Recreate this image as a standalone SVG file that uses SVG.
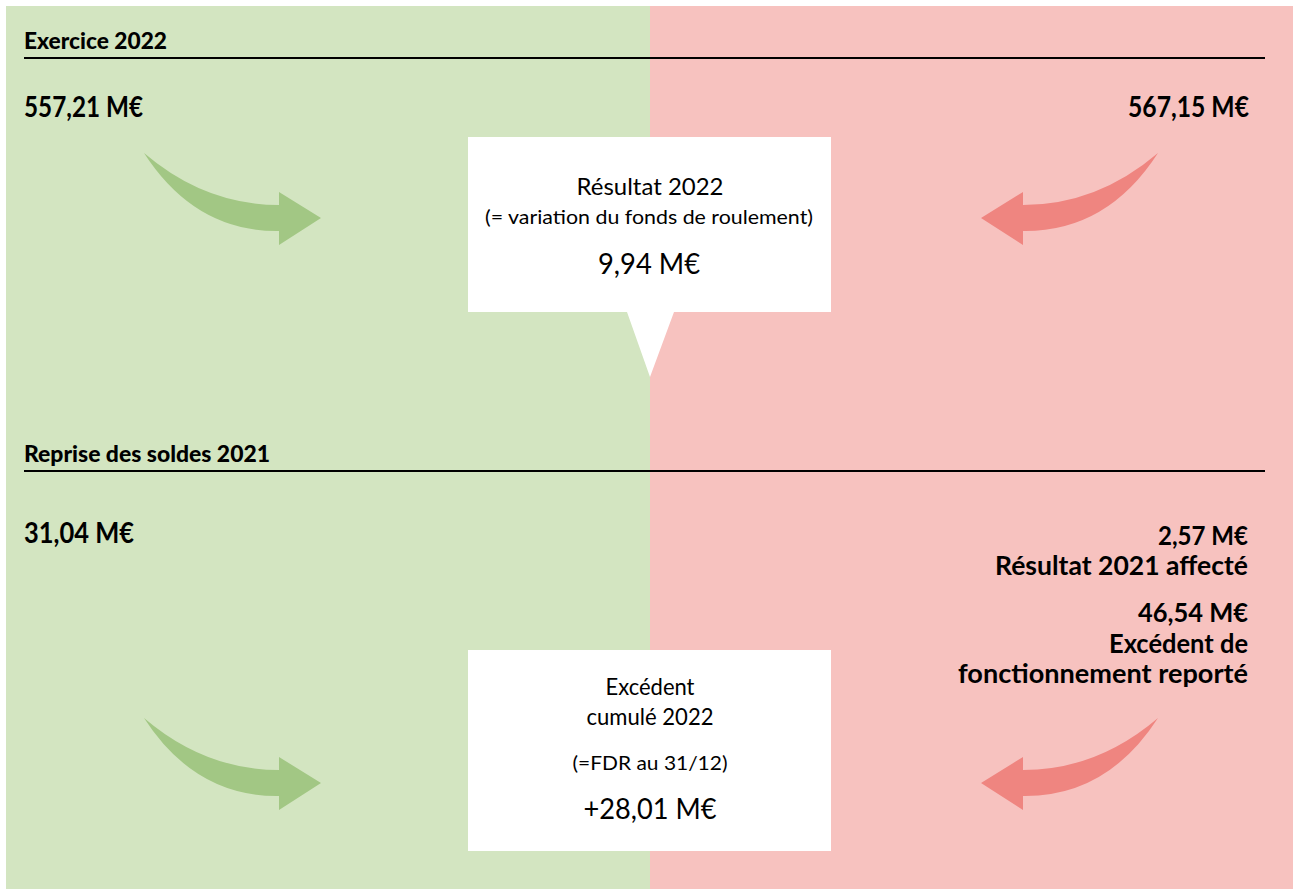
<svg xmlns="http://www.w3.org/2000/svg" width="1293" height="889" viewBox="0 0 1293 889">
<style>
text{font-family:Lato,"Open Sans","Liberation Sans",sans-serif;fill:#000}
.h{font-weight:900;font-size:22px}
.v{font-weight:700;font-size:28px}
.rv{font-weight:700;font-size:26px;text-anchor:end}
.c{font-size:23px;text-anchor:middle}
.cs{font-size:20px;text-anchor:middle}
.cb{font-size:29px;text-anchor:middle}
.r{text-anchor:end}
.ga{fill:#a2c784}
.ra{fill:#ef8580}
.box{fill:#fff}
.rule{stroke:#000;stroke-width:2}
</style>
<defs>
<path id="arr" d="M144,153 Q205,205 279,205 L279,192 L321,218 L279,245 L279,231 Q195,232 144,153 Z"/>
</defs>
<rect x="0" y="0" width="1293" height="889" fill="#fff"/>
<rect x="6" y="6" width="644" height="883" fill="#d3e5c1"/>
<rect x="650" y="6" width="643" height="883" fill="#f7c2bf"/>

<g id="section-exercice">
<text class="h" x="24" y="49" textLength="143" lengthAdjust="spacingAndGlyphs">Exercice 2022</text>
<line class="rule" x1="24" y1="58" x2="1265" y2="58"/>
</g>
<g id="recettes-2022">
<text class="v" x="24" y="117" textLength="119" lengthAdjust="spacingAndGlyphs">557,21 M€</text>
</g>
<g id="depenses-2022">
<text class="v r" x="1249" y="117" textLength="121" lengthAdjust="spacingAndGlyphs">567,15 M€</text>
</g>

<g id="connectors">
<use href="#arr" class="ga"/>
<use href="#arr" class="ra" transform="translate(1302,0) scale(-1,1)"/>
<use href="#arr" class="ga" transform="translate(0,565)"/>
<use href="#arr" class="ra" transform="translate(1302,565) scale(-1,1)"/>
</g>

<g id="resultat-2022">
<path class="box" d="M468,137 H831 V312 H674 L650,377 L627,312 H468 Z"/>
<text class="c" x="650" y="195" textLength="147" lengthAdjust="spacingAndGlyphs">Résultat 2022</text>
<text class="cs" x="649" y="224" textLength="328" lengthAdjust="spacingAndGlyphs">(= variation du fonds de roulement)</text>
<text class="cb" x="649" y="274" textLength="102" lengthAdjust="spacingAndGlyphs">9,94 M€</text>
</g>

<g id="section-reprise">
<text class="h" x="24" y="462" textLength="246" lengthAdjust="spacingAndGlyphs">Reprise des soldes 2021</text>
<line class="rule" x1="24" y1="471" x2="1265" y2="471"/>
</g>
<g id="solde-2021">
<text class="v" x="24" y="543" textLength="110" lengthAdjust="spacingAndGlyphs">31,04 M€</text>
</g>
<g id="reports-2021">
<text class="rv" x="1248" y="545" textLength="90" lengthAdjust="spacingAndGlyphs">2,57 M€</text>
<text class="rv" x="1248" y="575" textLength="253" lengthAdjust="spacingAndGlyphs">Résultat 2021 affecté</text>
<text class="rv" x="1248" y="622" textLength="110" lengthAdjust="spacingAndGlyphs">46,54 M€</text>
<text class="rv" x="1248" y="653" textLength="139" lengthAdjust="spacingAndGlyphs">Excédent de</text>
<text class="rv" x="1248" y="683" textLength="290" lengthAdjust="spacingAndGlyphs">fonctionnement reporté</text>
</g>

<g id="excedent-cumule">
<rect class="box" x="468" y="650" width="363" height="201"/>
<text class="c" x="650" y="695" textLength="89" lengthAdjust="spacingAndGlyphs">Excédent</text>
<text class="c" x="650" y="725" textLength="127" lengthAdjust="spacingAndGlyphs">cumulé 2022</text>
<text class="cs" x="650" y="770" textLength="155" lengthAdjust="spacingAndGlyphs">(=FDR au 31/12)</text>
<text class="cb" x="650" y="819" textLength="133" lengthAdjust="spacingAndGlyphs">+28,01 M€</text>
</g>
</svg>
